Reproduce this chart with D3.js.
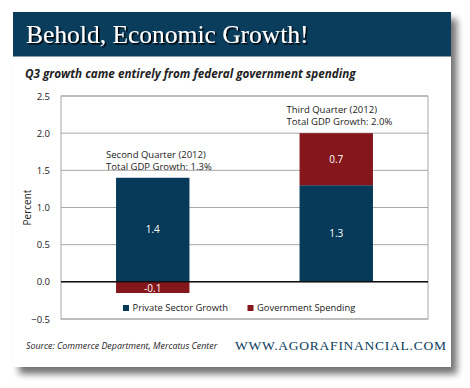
<!DOCTYPE html>
<html>
<head>
<meta charset="utf-8">
<script src="https://cdn.jsdelivr.net/npm/d3@7"></script>
<style>
  body { margin: 0; background: #fff; }
  svg { display: block; }
</style>
</head>
<body>
<svg id="chart" width="470" height="388"></svg>
<script>
(() => {

    // chart data
    const quarters = ['Q2', 'Q3'];
    const private_growth = [1.4, 1.3];
    const gov_spending = [-0.15, 0.7];
    const private_labels = ['1.4', '1.3'];
    const gov_labels = ['-0.1', '0.7'];
    const quarter_titles = ['Second Quarter (2012)', 'Third Quarter (2012)'];
    const total_titles = ['Total GDP Growth: 1.3%', 'Total GDP Growth: 2.0%'];
    const y_ticks = [-0.5, 0, 0.5, 1.0, 1.5, 2.0, 2.5];
    const legend_names = ['Private Sector Growth', 'Government Spending'];

    const navy = '#063a58';
    const red = '#85161b';

    let svg = d3.select('#chart');

    // drop shadow for the card
    let defs = svg.append('defs');
    let shadow = defs.append('filter').attr('id', 'shadow')
        .attr('x', '-10%').attr('y', '-10%').attr('width', '130%').attr('height', '130%');
    shadow.append('feGaussianBlur').attr('in', 'SourceAlpha').attr('stdDeviation', 3.5);
    shadow.append('feOffset').attr('dx', 6).attr('dy', 7).attr('result', 'off');
    shadow.append('feComponentTransfer').append('feFuncA').attr('type', 'linear').attr('slope', 0.55);
    let merge = shadow.append('feMerge');
    merge.append('feMergeNode');
    merge.append('feMergeNode').attr('in', 'SourceGraphic');

    let title_shadow = defs.append('filter').attr('id', 'tshadow');
    title_shadow.append('feDropShadow').attr('dx', 1.5).attr('dy', 1.5)
        .attr('stdDeviation', 0.4).attr('flood-color', '#000').attr('flood-opacity', 1);

    // card
    svg.append('rect')
        .attr('x', 13).attr('y', 12).attr('width', 438).attr('height', 355)
        .attr('fill', '#fff').attr('filter', 'url(#shadow)');

    svg.append('rect')
        .attr('x', 13).attr('y', 12).attr('width', 438).attr('height', 44.5)
        .attr('fill', '#0a3c5c');

    svg.append('text')
        .attr('x', 26).attr('y', 43)
        .text('Behold, Economic Growth!')
        .style('font-family', "'Liberation Serif', 'DejaVu Serif', serif")
        .style('font-size', '25.5px')
        .style('fill', '#fff')
        .attr('filter', 'url(#tshadow)');

    svg.append('text')
        .attr('x', 25).attr('y', 78)
        .text('Q3 growth came entirely from federal government spending')
        .style('font-family', "'Open Sans', sans-serif")
        .style('font-size', '11.7px')
        .style('font-weight', 'bold')
        .style('font-style', 'italic')
        .style('fill', '#222');

    // plot area
    const plot = { left: 61, right: 428, top: 96, bottom: 319 };

    let x_scale = d3.scaleBand()
        .domain(quarters)
        .range([plot.left, plot.right])
        .paddingInner(0.6)
        .paddingOuter(0.3);

    let y_scale = d3.scaleLinear()
        .domain([-0.5, 2.5])
        .range([plot.bottom, plot.top]);

    // grid lines
    svg.append('g')
        .selectAll('line')
        .data(y_ticks)
        .enter()
        .append('line')
        .attr('x1', plot.left).attr('x2', plot.right)
        .attr('y1', (d) => y_scale(d)).attr('y2', (d) => y_scale(d))
        .attr('stroke', '#a8a8a8')
        .attr('stroke-width', 1);

    svg.append('rect')
        .attr('x', plot.left).attr('y', plot.top)
        .attr('width', plot.right - plot.left).attr('height', plot.bottom - plot.top)
        .attr('fill', 'none').attr('stroke', '#a8a8a8').attr('stroke-width', 1);

    // y axis
    let y_axis = d3.axisLeft(y_scale).tickValues(y_ticks).tickFormat(d3.format('.1f')).tickSize(0).tickPadding(11);
    let y_g = svg.append('g')
        .attr('transform', `translate(${plot.left}, 0)`)
        .call(y_axis);
    y_g.select('.domain').remove();
    y_g.selectAll('text')
        .style('font-family', "'Open Sans', sans-serif")
        .style('font-size', '9.5px')
        .style('fill', '#222');

    svg.append('text')
        .attr('transform', `translate(31, ${y_scale(1.0)}) rotate(-90)`)
        .text('Percent')
        .style('text-anchor', 'middle')
        .style('font-family', "'Open Sans', sans-serif")
        .style('font-size', '10px')
        .style('fill', '#222');

    // private sector bars
    svg.selectAll('.private')
        .data(private_growth)
        .enter()
        .append('rect')
        .attr('class', 'private')
        .attr('x', (d, i) => x_scale(quarters[i]))
        .attr('width', x_scale.bandwidth())
        .attr('y', (d) => y_scale(d))
        .attr('height', (d) => y_scale(0) - y_scale(d))
        .attr('fill', navy);

    // government bars, stacked on private (positive) or below zero (negative)
    svg.selectAll('.gov')
        .data(gov_spending)
        .enter()
        .append('rect')
        .attr('class', 'gov')
        .attr('x', (d, i) => x_scale(quarters[i]))
        .attr('width', x_scale.bandwidth())
        .attr('y', (d, i) => d >= 0 ? y_scale(private_growth[i] + d) : y_scale(0))
        .attr('height', (d) => Math.abs(y_scale(0) - y_scale(d)))
        .attr('fill', red);

    // zero line
    svg.append('line')
        .attr('x1', plot.left).attr('x2', plot.right)
        .attr('y1', y_scale(0)).attr('y2', y_scale(0))
        .attr('stroke', '#111').attr('stroke-width', 1.5);

    // value labels
    const label_style = (sel) => sel
        .style('font-family', "'Open Sans', sans-serif")
        .style('font-size', '10px')
        .style('fill', '#fff')
        .style('text-anchor', 'middle')
        .attr('dy', '0.35em');

    svg.selectAll('.plabel')
        .data(private_labels)
        .enter()
        .append('text')
        .attr('x', (d, i) => x_scale(quarters[i]) + x_scale.bandwidth() / 2)
        .attr('y', (d, i) => y_scale(private_growth[i] / 2))
        .text((d) => d)
        .call(label_style);

    svg.selectAll('.glabel')
        .data(gov_labels)
        .enter()
        .append('text')
        .attr('x', (d, i) => x_scale(quarters[i]) + x_scale.bandwidth() / 2)
        .attr('y', (d, i) => gov_spending[i] >= 0
            ? y_scale(private_growth[i] + gov_spending[i] / 2)
            : y_scale(gov_spending[i] / 2) + 1)
        .text((d) => d)
        .call(label_style);

    // annotations above bars
    const note_style = (sel) => sel
        .style('font-family', "'Open Sans', sans-serif")
        .style('font-size', '9.5px')
        .style('fill', '#222');

    svg.selectAll('.qtitle')
        .data(quarter_titles)
        .enter()
        .append('text')
        .attr('x', (d, i) => x_scale(quarters[i]) - 10 - i * 3)
        .attr('y', (d, i) => y_scale(private_growth[i] + Math.max(gov_spending[i], 0)) - 20)
        .text((d) => d)
        .call(note_style);

    svg.selectAll('.ttitle')
        .data(total_titles)
        .enter()
        .append('text')
        .attr('x', (d, i) => x_scale(quarters[i]) - 10 - i * 3)
        .attr('y', (d, i) => y_scale(private_growth[i] + Math.max(gov_spending[i], 0)) - 8)
        .text((d) => d)
        .call(note_style);

    // legend
    let legend = svg.selectAll('.legend')
        .data(legend_names)
        .enter()
        .append('g')
        .attr('transform', (d, i) => `translate(${123 + i * 124.5}, 308)`);

    legend.append('rect')
        .attr('x', 0).attr('y', -3)
        .attr('width', 6).attr('height', 6)
        .attr('fill', (d, i) => i === 0 ? navy : red);

    legend.append('text')
        .attr('x', 9.5).attr('y', 0).attr('dy', '0.35em')
        .text((d) => d)
        .style('font-family', "'Open Sans', sans-serif")
        .style('font-size', '9.4px')
        .style('fill', '#222');

    // footer
    svg.append('text')
        .attr('x', 26).attr('y', 349)
        .text('Source: Commerce Department, Mercatus Center')
        .style('font-family', "'Open Sans', sans-serif")
        .style('font-style', 'italic')
        .style('font-size', '8.9px')
        .style('fill', '#222');

    svg.append('text')
        .attr('x', 235).attr('y', 350)
        .attr('textLength', 211)
        .attr('lengthAdjust', 'spacing')
        .text('WWW.AGORAFINANCIAL.COM')
        .style('font-family', "'Liberation Serif', 'DejaVu Serif', serif")
        .style('font-size', '13.5px')
        .style('fill', '#0a3c5c');

})();
</script>
</body>
</html>
